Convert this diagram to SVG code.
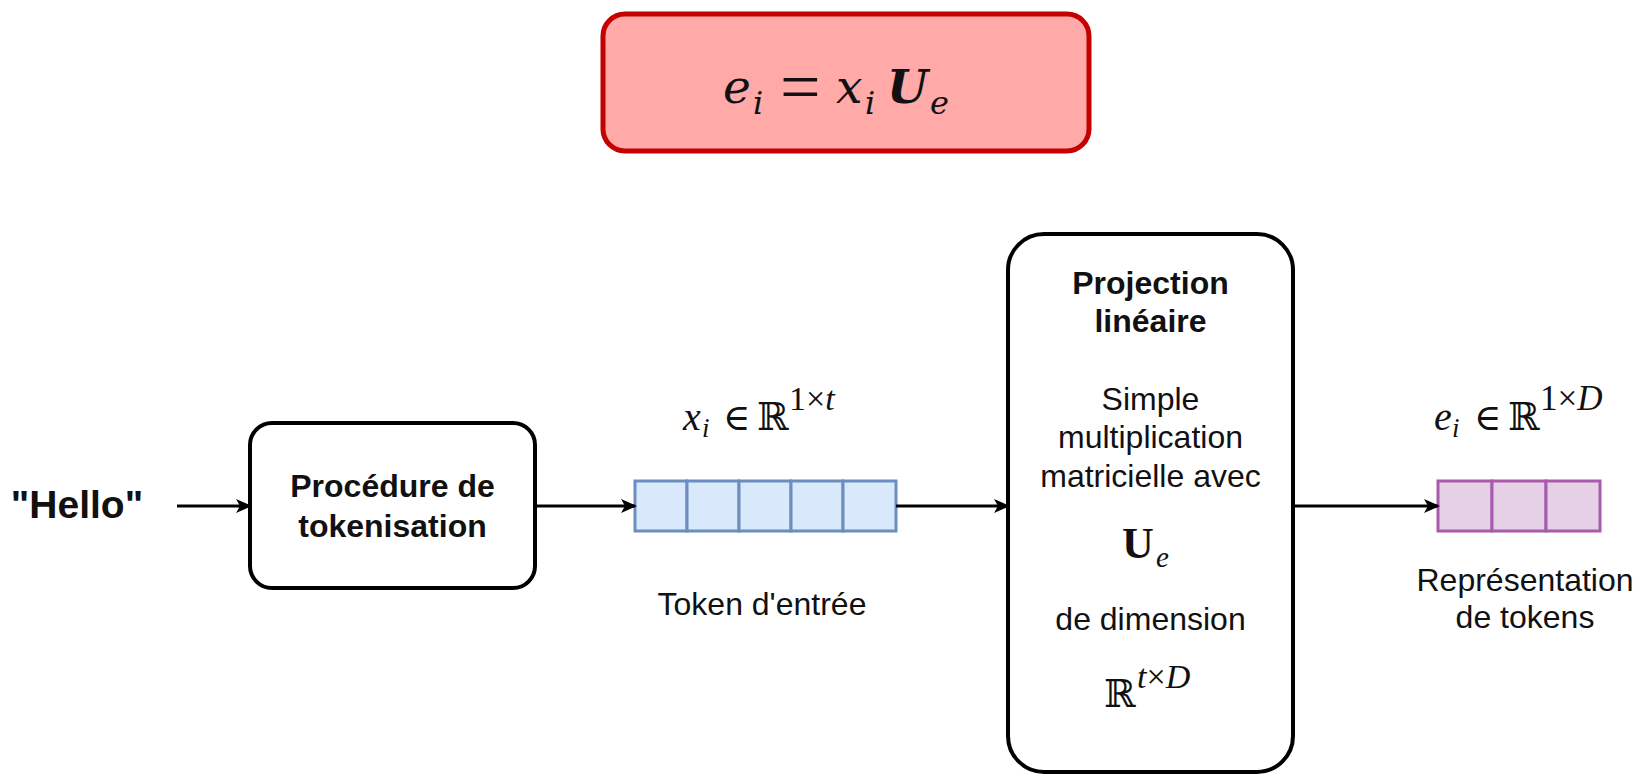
<svg xmlns="http://www.w3.org/2000/svg" width="1638" height="775" viewBox="0 0 1638 775">
  <defs>
    <marker id="arrow" markerWidth="16" markerHeight="14" refX="14" refY="7" orient="auto" markerUnits="userSpaceOnUse">
      <path d="M0,0 L16,7 L0,14 L4,7 Z" fill="#000"/>
    </marker>
    <style>
      .box { fill: #ffffff; stroke: #000000; stroke-width: 4; }
      .lbl { font-family: "Liberation Sans", Arial, sans-serif; font-size: 32px; fill: #111; text-anchor: middle; }
      .big { font-size: 39px; }
      .bold { font-weight: bold; }
      .math { font-family: "Liberation Serif", "DejaVu Serif", serif; fill: #111; }
      .eq { font-family: "DejaVu Serif", serif; fill: #111; }
      .rel { font-family: "Liberation Serif", serif; }
      .it { font-style: italic; }
      .dbl { font-family: "DejaVu Serif", "DejaVu Sans", serif; }
      .edge { fill: none; stroke: #000; stroke-width: 3; marker-end: url(#arrow); }
      .cellA { fill: #dae8fc; stroke: #6c8ebf; stroke-width: 3; }
      .cellB { fill: #e6d0e6; stroke: #a85aab; stroke-width: 3; }
    </style>
  </defs>

  <rect width="1638" height="775" fill="#ffffff"/>

  <!-- embedding formula -->
  <g id="formula">
    <rect x="603" y="14" width="486" height="137" rx="22" ry="22" fill="#ffa9a9" stroke="#c40000" stroke-width="5"/>
    <text class="eq" font-size="47">
      <tspan x="723" y="103" class="it">e</tspan><tspan x="753" y="114" font-size="32" class="it">i</tspan>
      <tspan x="780" y="111" class="rel" font-size="72">=</tspan>
      <tspan x="836" y="103" class="it">x</tspan><tspan x="865" y="114" font-size="32" class="it">i</tspan>
      <tspan x="887" y="103" class="it" font-weight="bold">U</tspan><tspan x="930" y="114" font-size="32" class="it">e</tspan>
    </text>
  </g>

  <!-- input word -->
  <g id="input">
    <text class="lbl bold big" x="77" y="518">"Hello"</text>
  </g>

  <!-- tokenisation step -->
  <g id="tokenisation">
    <rect class="box" x="250" y="423" width="285" height="165" rx="22" ry="22"/>
    <text class="lbl bold" x="392.5" y="497">Procédure de</text>
    <text class="lbl bold" x="392.5" y="537">tokenisation</text>
  </g>

  <!-- input token vector -->
  <g id="token-input">
    <rect class="cellA" x="635" y="481" width="52" height="50"/>
    <rect class="cellA" x="687" y="481" width="52" height="50"/>
    <rect class="cellA" x="739" y="481" width="52" height="50"/>
    <rect class="cellA" x="791" y="481" width="52" height="50"/>
    <rect class="cellA" x="843" y="481" width="53" height="50"/>
    <text class="math" font-size="40">
      <tspan x="683" y="430" class="it">x</tspan><tspan x="702" y="437" font-size="27" class="it">i</tspan>
      <tspan x="723" y="430" class="dbl" font-size="37">∈</tspan>
      <tspan x="757" y="430" class="dbl" font-size="38">ℝ</tspan>
      <tspan x="789" y="410" font-size="34">1×</tspan><tspan class="it" font-size="34">t</tspan>
    </text>
    <text class="lbl" x="762" y="615">Token d'entrée</text>
  </g>

  <!-- linear projection -->
  <g id="projection">
    <rect class="box" x="1008" y="234" width="285" height="538" rx="36" ry="36"/>
    <text class="lbl bold" x="1150.5" y="294">Projection</text>
    <text class="lbl bold" x="1150.5" y="332">linéaire</text>
    <text class="lbl" x="1150.5" y="410">Simple</text>
    <text class="lbl" x="1150.5" y="448">multiplication</text>
    <text class="lbl" x="1150.5" y="487">matricielle avec</text>
    <text class="math" font-size="44">
      <tspan x="1122" y="558" font-weight="bold">U</tspan><tspan x="1156" y="567" font-size="29" class="it">e</tspan>
    </text>
    <text class="lbl" x="1150.5" y="630">de dimension</text>
    <text class="math" font-size="40">
      <tspan x="1104" y="707" class="dbl" font-size="38">ℝ</tspan>
      <tspan x="1137" y="688" font-size="34" class="it">t</tspan><tspan font-size="34">×</tspan><tspan font-size="34" class="it">D</tspan>
    </text>
  </g>

  <!-- token representation vector -->
  <g id="token-output">
    <rect class="cellB" x="1438" y="481" width="54" height="50"/>
    <rect class="cellB" x="1492" y="481" width="54" height="50"/>
    <rect class="cellB" x="1546" y="481" width="54" height="50"/>
    <text class="math" font-size="40">
      <tspan x="1434" y="430" class="it">e</tspan><tspan x="1452" y="437" font-size="27" class="it">i</tspan>
      <tspan x="1474" y="430" class="dbl" font-size="37">∈</tspan>
      <tspan x="1508" y="430" class="dbl" font-size="38">ℝ</tspan>
      <tspan x="1540" y="410" font-size="35">1×</tspan><tspan class="it" font-size="35">D</tspan>
    </text>
    <text class="lbl" x="1525" y="591">Représentation</text>
    <text class="lbl" x="1525" y="628">de tokens</text>
  </g>

  <!-- connectors -->
  <g id="connectors">
    <path class="edge" d="M177,506 L250,506"/>
    <path class="edge" d="M535,506 L635,506"/>
    <path class="edge" d="M896,506 L1008,506"/>
    <path class="edge" d="M1293,506 L1438,506"/>
  </g>
</svg>
